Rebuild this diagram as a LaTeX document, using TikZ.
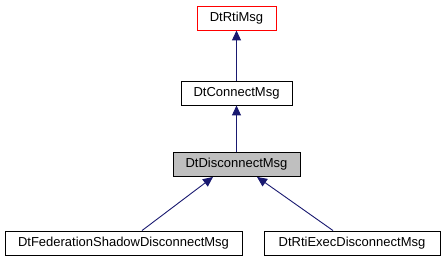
\documentclass[tikz,border=0pt]{standalone}
\usepackage{fontspec}
\setmainfont{Liberation Sans}
\usetikzlibrary{arrows.meta}
\definecolor{edgeblue}{HTML}{191970}
\definecolor{nodegrey}{HTML}{BFBFBF}
\tikzset{
  cls/.style={draw=black, line width=0.9pt, fill=white, minimum height=24pt, inner sep=0pt, font=\fontsize{13}{15}\selectfont},
  inh/.style={draw=edgeblue, line width=0.9pt, -{Triangle[length=10pt,width=9pt]}},
}
\begin{document}
\begin{tikzpicture}[x=1pt,y=-1pt]
\useasboundingbox (0,0) rectangle (444,261);
\node[cls, draw=red, minimum width=79pt] (rti) at (236.5,18) {DtRtiMsg};
\node[cls, minimum width=111pt] (con) at (236.5,93) {DtConnectMsg};
\node[cls, fill=nodegrey, minimum width=127pt] (dis) at (236.5,164.5) {DtDisconnectMsg};
\node[cls, minimum width=237pt] (fed) at (123.5,243) {DtFederationShadowDisconnectMsg};
\node[cls, minimum width=176pt] (exe) at (352,243) {DtRtiExecDisconnectMsg};
\draw[inh] (con.north) -- (rti.south);
\draw[inh] (dis.north) -- (con.south);
\draw[inh] ([xshift=18.5pt]fed.north) -- ([xshift=-23.5pt]dis.south);
\draw[inh] ([xshift=-19pt]exe.north) -- ([xshift=20.5pt]dis.south);
\end{tikzpicture}
\end{document}
